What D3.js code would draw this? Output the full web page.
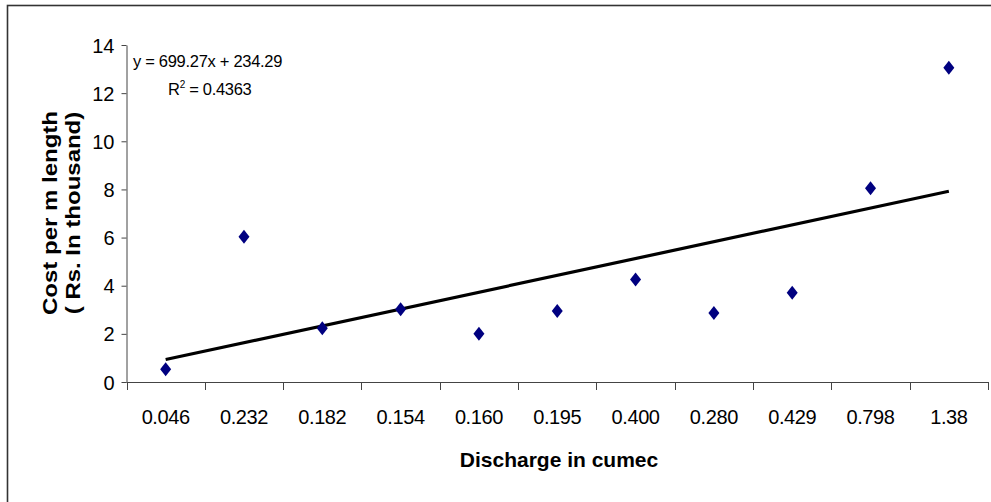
<!DOCTYPE html>
<html>
<head>
<meta charset="utf-8">
<script src="https://cdn.jsdelivr.net/npm/d3@7/dist/d3.min.js"></script>
<style>
  html, body { margin: 0; padding: 0; background: #fff; }
  svg { display: block; }
  text { font-family: Arial, "Liberation Sans", sans-serif; fill: #000; }
</style>
</head>
<body>
<svg id="chart" width="991" height="502"></svg>
<script>
// ---- data ----
const categories = ["0.046","0.232","0.182","0.154","0.160","0.195","0.400","0.280","0.429","0.798","1.38"];
const costValues = [0.53, 6.03, 2.23, 3.02, 2.0, 2.95, 4.26, 2.87, 3.71, 8.05, 13.05];
const yTicks = [0, 2, 4, 6, 8, 10, 12, 14];
const trendSlope = 0.69927;      // thousand Rs per category step (699.27 Rs)
const trendIntercept = 0.23429;  // thousand Rs (234.29 Rs)
const equationText = "y = 699.27x + 234.29";
const r2Text = "0.4363";
const xTitle = "Discharge in cumec";
const yTitleLines = ["Cost per m length", "( Rs. In thousand)"];

// ---- layout ----
const svg = d3.select("#chart");
const plot = { left: 126.5, right: 988, top: 45, bottom: 382 };
const FONT = "Arial, 'Liberation Sans', sans-serif";

// outer frame (only top & left visible in the frame)
svg.append("rect")
  .attr("x", 7.5).attr("y", 5.5)
  .attr("width", 1100).attr("height", 700)
  .attr("fill", "none").attr("stroke", "#333").attr("stroke-width", 1.6);

const x = d3.scaleBand().domain(categories).range([plot.left, plot.right]).padding(0);
const y = d3.scaleLinear().domain([0, 14]).range([plot.bottom, plot.top]);

// y axis
const yAxis = d3.axisLeft(y).tickValues(yTicks).tickSize(5).tickPadding(7).tickSizeOuter(0);
const gy = svg.append("g").attr("transform", `translate(${plot.left},0)`).call(yAxis)
  .attr("font-family", FONT).attr("font-size", 20);
gy.select(".domain").attr("stroke", "#444");
gy.selectAll(".tick line").attr("stroke", "#444");
gy.selectAll(".tick text").attr("fill", "#000").attr("dy", "0.35em");

// x axis: ticks at band boundaries
const gx = svg.append("g").attr("transform", `translate(0,${plot.bottom})`);
gx.append("line").attr("x1", plot.left).attr("x2", plot.right)
  .attr("y1", 0.5).attr("y2", 0.5).attr("stroke", "#444");
const boundaries = categories.map(c => x(c)).concat([x(categories[categories.length - 1]) + x.bandwidth()]);
gx.selectAll("line.bt").data(boundaries).enter().append("line").attr("class", "bt")
  .attr("x1", d => Math.round(d) + 0.5).attr("x2", d => Math.round(d) + 0.5)
  .attr("y1", 0).attr("y2", 8).attr("stroke", "#444");
gx.selectAll("text.lbl").data(categories).enter().append("text").attr("class", "lbl")
  .attr("x", d => x(d) + x.bandwidth() / 2)
  .attr("y", 42)
  .attr("text-anchor", "middle")
  .attr("font-size", 20)
  .attr("letter-spacing", -0.4)
  .text(d => d);

// trend line
const trendPts = [0, categories.length - 1].map(i => ({
  cx: x(categories[i]) + x.bandwidth() / 2,
  v: trendSlope * (i + 1) + trendIntercept
}));
svg.append("line")
  .attr("x1", trendPts[0].cx).attr("y1", y(trendPts[0].v))
  .attr("x2", trendPts[1].cx).attr("y2", y(trendPts[1].v))
  .attr("stroke", "#000").attr("stroke-width", 3.2);

// diamond markers
const hw = 5.5, hh = 7;
const diamond = `M0,${-hh}L${hw},0L0,${hh}L${-hw},0Z`;
svg.append("g").selectAll("path").data(costValues).enter().append("path")
  .attr("d", diamond)
  .attr("transform", (d, i) => `translate(${x(categories[i]) + x.bandwidth() / 2},${y(d)})`)
  .attr("fill", "#000080");

// equation text
svg.append("text").attr("x", 133).attr("y", 67).attr("font-size", 16.5)
  .attr("letter-spacing", -0.3).text(equationText);
const r2 = svg.append("text").attr("x", 168).attr("y", 95).attr("font-size", 16.5).attr("letter-spacing", -0.3);
r2.append("tspan").text("R");
r2.append("tspan").attr("font-size", 10).attr("dy", -7).text("2");
r2.append("tspan").attr("dy", 7).text(" = " + r2Text);

// axis titles
svg.append("text")
  .attr("x", 559).attr("y", 467)
  .attr("text-anchor", "middle")
  .attr("font-size", 21).attr("font-weight", "bold")
  .text(xTitle);

const yt = svg.append("g").attr("transform", "translate(0,213) rotate(-90)");
yt.append("text").attr("x", 0).attr("y", 57).attr("text-anchor", "middle")
  .attr("font-size", 20).attr("font-weight", "bold")
  .attr("transform", "scale(1.2,1)")
  .text(yTitleLines[0]);
yt.append("text").attr("x", 0).attr("y", 80).attr("text-anchor", "middle")
  .attr("font-size", 20).attr("font-weight", "bold")
  .attr("transform", "scale(1.2,1)")
  .text(yTitleLines[1]);
</script>
</body>
</html>
